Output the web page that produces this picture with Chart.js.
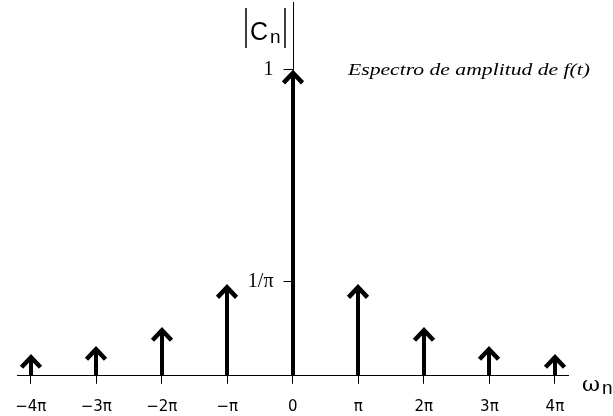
<!DOCTYPE html>
<html>
<head>
<meta charset="utf-8">
<script src="https://cdn.jsdelivr.net/npm/chart.js@4.4.0/dist/chart.umd.min.js"></script>
<style>
    html, body { margin: 0; padding: 0; background: #fff; }
    #wrap { width: 613px; height: 416px; position: relative; }
</style>
</head>
<body>
<div id="wrap"><canvas id="spectrum"></canvas></div>
<script>
// Harmonic index n (frequency = n*pi) and amplitude |Cn|
const harmonics = [-4, -3, -2, -1, 0, 1, 2, 3, 4];
const freqLabels = ['\u22124\u03c0', '\u22123\u03c0', '\u22122\u03c0', '\u2212\u03c0', '0', '\u03c0', '2\u03c0', '3\u03c0', '4\u03c0'];
const amplitudes = [0.072, 0.098, 0.16, 0.30, 1.0, 0.30, 0.16, 0.098, 0.072];

// y-axis marks
const yTickValues = [0.308, 1];
const yTickLabels = ['1/\u03c0', '1'];

const titleText = 'Espectro de amplitud de f(t)';

// vertical axis through x = 0, with its two marks (the y scale itself is hidden)
const yAxisPlugin = {
    id: 'centerAxis',
    beforeDatasetsDraw(chart) {
        const ctx = chart.ctx;
        const xs = chart.scales.x;
        const ys = chart.scales.y;
        const x0 = Math.round(xs.getPixelForValue(0)) + 0.5;
        ctx.save();
        ctx.strokeStyle = '#000';
        ctx.lineWidth = 1;
        ctx.beginPath();
        ctx.moveTo(x0, chart.chartArea.top);
        ctx.lineTo(x0, ys.getPixelForValue(0));
        ctx.stroke();

        ctx.fillStyle = '#000';
        ctx.font = '20px "Liberation Serif"';
        ctx.textAlign = 'right';
        ctx.textBaseline = 'middle';
        yTickValues.forEach((v, i) => {
            const y = Math.round(ys.getPixelForValue(v)) + 0.5;
            ctx.beginPath();
            ctx.moveTo(x0 - 10, y);
            ctx.lineTo(x0, y);
            ctx.stroke();
            ctx.fillText(yTickLabels[i], x0 - 20, y);
        });
        ctx.restore();
    }
};

// draws the arrows (stem + chevron) from the dataset points
const arrowPlugin = {
    id: 'arrows',
    afterDatasetsDraw(chart) {
        const ctx = chart.ctx;
        const meta = chart.getDatasetMeta(0);
        const base = chart.scales.y.getPixelForValue(0);
        ctx.save();
        ctx.strokeStyle = '#000';
        meta.data.forEach(pt => {
            const x = Math.round(pt.x);
            const tip = pt.y;
            ctx.lineWidth = 4;
            ctx.lineCap = 'butt';
            ctx.beginPath();
            ctx.moveTo(x, base);
            ctx.lineTo(x, tip + 5);
            ctx.stroke();

            ctx.lineJoin = 'miter';
            ctx.lineWidth = 4.5;
            ctx.beginPath();
            ctx.moveTo(x - 9.5, tip + 13.5);
            ctx.lineTo(x, tip + 3.5);
            ctx.lineTo(x + 9.5, tip + 13.5);
            ctx.stroke();
        });
        ctx.restore();
    }
};

// axis names and caption
const labelPlugin = {
    id: 'labels',
    afterDraw(chart) {
        const ctx = chart.ctx;
        ctx.save();
        ctx.fillStyle = '#000';
        ctx.strokeStyle = '#000';

        // |Cn|
        ctx.lineWidth = 1.5;
        ctx.beginPath();
        ctx.moveTo(246, 8); ctx.lineTo(246, 48);
        ctx.moveTo(285, 8); ctx.lineTo(285, 48);
        ctx.stroke();
        ctx.textBaseline = 'alphabetic';
        ctx.textAlign = 'left';
        ctx.font = '25px "Liberation Sans"';
        ctx.fillText('C', 250, 40);
        ctx.font = '19px "Liberation Sans"';
        ctx.fillText('n', 270, 43);

        // omega_n
        ctx.font = '21px "DejaVu Serif"';
        drawFitted(ctx, '\u03c9', 582, 391, 18);
        ctx.font = '19px "Liberation Sans"';
        ctx.fillText('n', 602, 394);

        // caption
        ctx.font = 'italic 17px "Liberation Serif"';
        drawFitted(ctx, titleText, 348, 75, 242);
        ctx.restore();
    }
};

function drawFitted(ctx, text, x, y, width) {
    const w = ctx.measureText(text).width;
    ctx.save();
    ctx.translate(x, y);
    ctx.scale(width / w, 1);
    ctx.fillText(text, 0, 0);
    ctx.restore();
}

const ctx = document.getElementById('spectrum').getContext('2d');
new Chart(ctx, {
    type: 'scatter',
    data: {
        datasets: [{
            data: harmonics.map((n, i) => ({ x: n, y: amplitudes[i] })),
            pointRadius: 0,
            pointHoverRadius: 0,
            showLine: false
        }]
    },
    options: {
        responsive: true,
        maintainAspectRatio: false,
        animation: false,
        events: [],
        layout: {
            padding: { left: 17, right: 45, top: 2, bottom: -15 }
        },
        plugins: {
            legend: { display: false },
            tooltip: { enabled: false }
        },
        scales: {
            x: {
                type: 'linear',
                position: 'bottom',
                min: -4.21,
                max: 4.2,
                afterBuildTicks: scale => {
                    scale.ticks = harmonics.map(v => ({ value: v }));
                },
                ticks: {
                    autoSkip: false,
                    maxRotation: 0,
                    padding: 14,
                    color: '#000',
                    font: { family: 'DejaVu Sans', size: 15, lineHeight: 1.28 },
                    callback: value => freqLabels[harmonics.indexOf(value)]
                },
                grid: {
                    drawOnChartArea: false,
                    drawTicks: true,
                    tickLength: 8,
                    tickColor: '#000'
                },
                border: { display: true, color: '#000', width: 1 }
            },
            y: {
                type: 'linear',
                display: false,
                min: 0,
                max: 1.22
            }
        }
    },
    plugins: [yAxisPlugin, arrowPlugin, labelPlugin]
});
</script>
</body>
</html>
